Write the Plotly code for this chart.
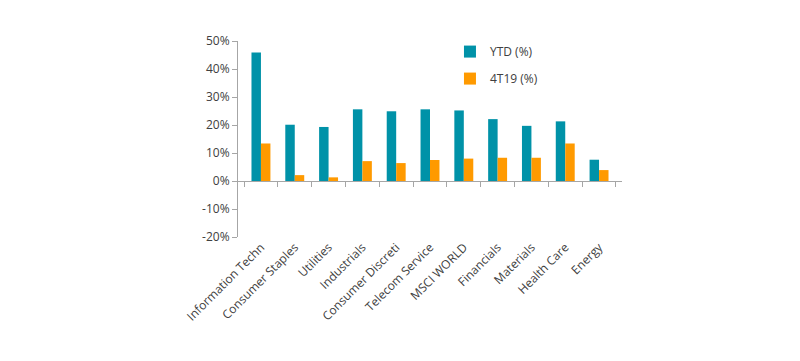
import plotly.graph_objects as go

categories = ["Information Techn", "Consumer Staples", "Utilities", "Industrials",
              "Consumer Discreti", "Telecom Service", "MSCI WORLD", "Financials",
              "Materials", "Health Care", "Energy"]
ytd = [45.9, 20.1, 19.3, 25.6, 24.9, 25.6, 25.2, 22.1, 19.7, 21.3, 7.6]
q4_19 = [13.4, 2.1, 1.3, 7.1, 6.4, 7.5, 8.0, 8.3, 8.3, 13.4, 3.9]
y_ticks = [-20, -10, 0, 10, 20, 30, 40, 50]
y_range = [-20, 50]

TEAL = "#0092A8"
ORANGE = "#FF9A00"
AXIS = "#A6A6A6"
TXT = "#404040"
FONT = "Open Sans"

fig = go.Figure()
fig.add_trace(go.Bar(name="YTD (%)", x=categories, y=ytd, marker_color=TEAL,
                     marker_line_width=0, legendgroup="a"))
fig.add_trace(go.Bar(name="4T19 (%)", x=categories, y=q4_19, marker_color=ORANGE,
                     marker_line_width=0, legendgroup="b"))
# invisible helper trace so the zero-line category axis is drawn
fig.add_trace(go.Scatter(x=categories, y=[0] * len(categories), xaxis="x2", mode="markers",
                         marker=dict(opacity=0), showlegend=False, hoverinfo="skip"))

zero_pos = (0 - y_range[0]) / (y_range[1] - y_range[0])

# page body has an 8px default margin, so the figure is 16px smaller than the window
fig.update_layout(
    width=784, height=345,
    margin=dict(l=230, r=170, t=33, b=116, autoexpand=False),
    paper_bgcolor="white", plot_bgcolor="white",
    barmode="group", bargap=0.44, bargroupgap=0,
    font=dict(family=FONT, size=12, color=TXT),
    showlegend=True,
    legend=dict(x=0.552, y=1.02, xanchor="left", yanchor="top",
                font=dict(family=FONT, size=12, color=TXT),
                tracegroupgap=8, bgcolor="rgba(0,0,0,0)"),
    xaxis=dict(type="category", showline=False, ticks="", tickangle=-45,
               showgrid=False, zeroline=False, automargin=False,
               tickfont=dict(family=FONT, size=12, color=TXT)),
    xaxis2=dict(overlaying="x", matches="x", anchor="free", position=zero_pos,
                showticklabels=False, showline=True, linecolor=AXIS, linewidth=1,
                ticks="outside", tickson="boundaries", ticklen=5, tickcolor=AXIS,
                showgrid=False, zeroline=False, automargin=False),
    yaxis=dict(range=y_range, tickvals=y_ticks, ticktext=[f"{v}%" for v in y_ticks],
               showline=True, linecolor=AXIS, linewidth=1, ticks="outside",
               ticklen=5, tickcolor=AXIS, showgrid=False, zeroline=False,
               automargin=False,
               tickfont=dict(family=FONT, size=12, color=TXT)),
)

fig.write_html("out.html")
